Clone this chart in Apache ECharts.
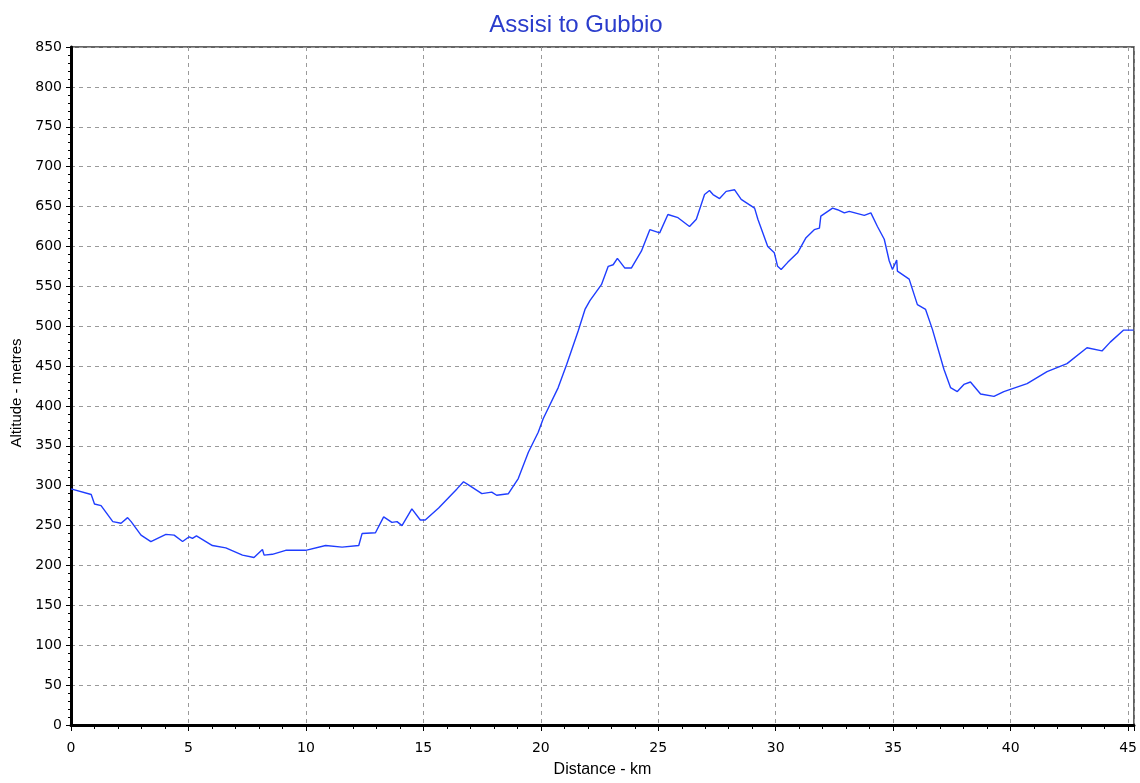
<!DOCTYPE html>
<html>
<head>
<meta charset="utf-8">
<script src="https://cdn.jsdelivr.net/npm/echarts@6/dist/echarts.min.js"></script>
<style>
  html, body { margin: 0; padding: 0; background: #fff; }
  #chart { width: 1140px; height: 783px; }
</style>
</head>
<body>
<div id="chart"></div>
<script>
// distance along the route (km) and altitude (m)
const distanceKm = [
  0, 0.86, 1.0, 1.28, 1.78, 2.13, 2.41, 2.56, 2.98, 3.4, 4.04, 4.39, 4.75, 5.03, 5.17, 5.34,
  6.02, 6.59, 7.3, 7.79, 8.15, 8.22, 8.57, 9.14, 9.99, 10.84, 11.54, 12.25, 12.39, 12.96,
  13.31, 13.66, 13.88, 14.09, 14.51, 14.87, 15.08, 15.65, 16.43, 16.71, 16.92, 17.49, 17.91,
  18.12, 18.62, 19.04, 19.47, 19.89, 20.1, 20.74, 21.1, 21.59, 21.88, 22.09, 22.58, 22.87,
  23.08, 23.26, 23.57, 23.86, 24.28, 24.64, 25.06, 25.41, 25.84, 26.33, 26.62, 26.97, 27.18,
  27.33, 27.61, 27.89, 28.25, 28.53, 28.74, 29.1, 29.24, 29.66, 29.94, 30.08, 30.23, 30.51,
  30.93, 31.29, 31.64, 31.86, 31.92, 32.42, 32.63, 32.92, 33.13, 33.77, 34.05, 34.33, 34.62,
  34.83, 34.97, 35.15, 35.18, 35.68, 36.03, 36.38, 36.67, 37.16, 37.44, 37.73, 38.01, 38.29,
  38.72, 39.29, 39.71, 40.7, 41.55, 42.4, 43.25, 43.89, 44.24, 44.8, 45.23
];
const altitudeM = [
  296, 289, 277, 275, 255, 253, 260, 255, 238, 230, 239, 238, 230, 236, 234, 237,
  225, 222, 213, 210, 220, 213, 214, 219, 219, 225, 223, 225, 240, 241,
  261, 254, 255, 250, 271, 257, 257, 272, 296, 305, 301, 290, 292,
  288, 290, 309, 342, 367, 384, 423, 452, 494, 521, 532, 552, 575,
  577, 585, 573, 573, 594, 621, 617, 640, 636, 625, 634, 665, 670,
  665, 660, 669, 671, 659, 655, 648, 634, 600, 592, 575, 571, 580,
  592, 611, 621, 623, 638, 648, 646, 642, 644, 639, 642, 625, 609,
  582, 571, 583, 569, 559, 527, 521, 496, 446, 423, 418, 427, 430,
  415, 412, 418, 428, 443, 453, 473, 469, 480, 495, 495
];
const title = "Assisi to Gubbio";
const xName = "Distance - km";
const yName = "Altitude - metres";

const chart = echarts.init(document.getElementById("chart"));
const font = "'Liberation Sans', Arial, sans-serif";
const labelFont = "'DejaVu Sans', sans-serif";
const gridLine = { show: true, lineStyle: { color: "#9a9a9a", type: [4, 4], width: 1 } };

chart.setOption({
  animation: false,
  title: {
    text: title,
    left: 571,
    textAlign: "center",
    top: 8,
    textStyle: { color: "#2a3ccc", fontFamily: font, fontSize: 24, fontWeight: "normal" },
  },
  grid: {
    left: 71,
    top: 47,
    right: 3,
    bottom: 56,
    show: true,
    borderColor: "#333",
    borderWidth: 1.5,
    containLabel: false,
  },
  xAxis: {
    type: "value",
    min: 0,
    max: 45.25,
    interval: 5,
    name: xName,
    nameLocation: "middle",
    nameGap: 37,
    nameTextStyle: { color: "#000", fontFamily: font, fontSize: 16 },
    axisLine: { onZero: false, lineStyle: { color: "#000", width: 3 } },
    axisTick: { length: 6, lineStyle: { color: "#000" } },
    minorTick: { show: true, splitNumber: 5, length: 4, lineStyle: { color: "#000" } },
    axisLabel: { color: "#000", fontFamily: labelFont, fontSize: 14, margin: 16, showMaxLabel: false },
    splitLine: gridLine,
  },
  yAxis: {
    type: "value",
    min: 0,
    max: 850,
    interval: 50,
    name: yName,
    nameLocation: "middle",
    nameRotate: 90,
    nameGap: 47,
    nameTextStyle: { color: "#000", fontFamily: font, fontSize: 15, padding: [0, 14, 0, 0] },
    axisLine: { show: true, lineStyle: { color: "#000", width: 3 } },
    axisTick: { show: true, length: 5, lineStyle: { color: "#000" } },
    minorTick: { show: true, splitNumber: 5, length: 3, lineStyle: { color: "#000" } },
    axisLabel: { color: "#000", fontFamily: labelFont, fontSize: 14, margin: 9 },
    splitLine: gridLine,
  },
  series: [
    {
      type: "line",
      data: distanceKm.map((d, i) => [d, altitudeM[i]]),
      showSymbol: false,
      lineStyle: { color: "#1f3dff", width: 1.4 },
    },
  ],
});
</script>
</body>
</html>
